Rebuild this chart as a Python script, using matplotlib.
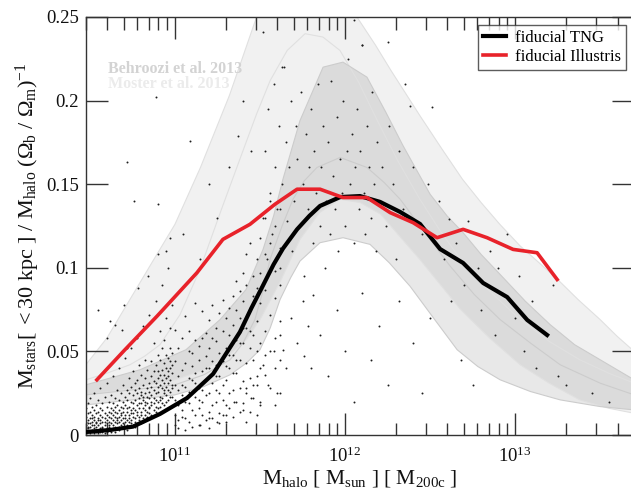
import numpy as np
import matplotlib
matplotlib.use("Agg")
import matplotlib.pyplot as plt

plt.rcParams['font.family'] = ['Liberation Serif', 'DejaVu Serif']
plt.rcParams['mathtext.fontset'] = 'custom'
plt.rcParams['mathtext.rm'] = 'Liberation Serif'
plt.rcParams['mathtext.it'] = 'Liberation Serif:italic'
plt.rcParams['mathtext.bf'] = 'Liberation Serif:bold'

# --- median relations (log10 M_halo, stellar fraction in units of Omega_b/Omega_m)
tng_logm = [10.476, 10.618, 10.753, 10.912, 11.071, 11.224, 11.382, 11.45, 11.518, 11.58,
            11.635, 11.718, 11.79, 11.853, 11.971, 12.088, 12.206, 12.324, 12.441, 12.559,
            12.694, 12.812, 12.953, 13.071, 13.188]
tng_frac = [0.0018, 0.0030, 0.0050, 0.0126, 0.0221, 0.0365, 0.0616, 0.0760, 0.0895, 0.1020,
            0.1115, 0.1230, 0.1310, 0.1370, 0.1423, 0.1429, 0.1394, 0.1334, 0.1262, 0.1112,
            0.1029, 0.0909, 0.0825, 0.0688, 0.0598]

ill_logm = [10.541, 10.706, 10.894, 11.129, 11.282, 11.441, 11.588, 11.718, 11.853, 11.988,
            12.129, 12.265, 12.400, 12.541, 12.694, 12.835, 12.988, 13.129, 13.247]
ill_frac = [0.033, 0.051, 0.071, 0.097, 0.117, 0.126, 0.138, 0.147, 0.147, 0.142,
            0.142, 0.133, 0.127, 0.118, 0.123, 0.118, 0.111, 0.109, 0.093]

# --- abundance matching bands: upper edge, lower edge and median
moster_up_logm = [10.476, 10.6, 10.735, 10.87, 11.0, 11.15, 11.32, 11.48, 11.62, 11.77,
                  11.91, 12.07, 12.18, 12.27, 12.44, 12.57, 12.69, 12.80, 12.91, 13.03,
                  13.13, 13.25, 13.37, 13.5, 13.6, 13.7]
moster_up = [0.042, 0.058, 0.081, 0.104, 0.126, 0.160, 0.203, 0.250, 0.272, 0.281,
             0.272, 0.250, 0.233, 0.218, 0.191, 0.171, 0.153, 0.139, 0.126, 0.113,
             0.104, 0.093, 0.081, 0.069, 0.059, 0.050]
moster_lo_logm = [10.476, 10.75, 11.0, 11.17, 11.32, 11.42, 11.5, 11.62, 11.735, 11.85,
                  11.97, 12.09, 12.21, 12.32, 12.44, 12.56, 12.68, 12.85, 13.03, 13.2,
                  13.38, 13.55, 13.7]
moster_lo = [0.024, 0.028, 0.033, 0.039, 0.048, 0.057, 0.069, 0.092, 0.117, 0.133,
             0.141, 0.139, 0.132, 0.119, 0.105, 0.090, 0.075, 0.058, 0.042, 0.031,
             0.021, 0.016, 0.013]
moster_mid_logm = [10.476, 10.6, 10.735, 10.82, 10.912, 11.03, 11.147, 11.27, 11.4, 11.48,
                   11.56, 11.66, 11.765, 11.87, 11.97, 12.08, 12.19, 12.31, 12.44, 12.56,
                   12.68, 12.85, 13.03, 13.2, 13.38, 13.55, 13.7]
moster_mid = [0.033, 0.037, 0.042, 0.047, 0.054, 0.072, 0.099, 0.134, 0.170, 0.192,
              0.212, 0.230, 0.240, 0.238, 0.230, 0.211, 0.188, 0.164, 0.141, 0.122,
              0.105, 0.086, 0.069, 0.056, 0.045, 0.037, 0.031]

behroozi_up_logm = [10.476, 10.794, 11.065, 11.265, 11.418, 11.518, 11.58, 11.635, 11.735, 11.871,
                    11.988, 12.129, 12.24, 12.341, 12.5, 12.6, 12.694, 12.8, 12.912, 13.06,
                    13.206, 13.35, 13.5, 13.7]
behroozi_up = [0.030, 0.039, 0.051, 0.069, 0.087, 0.111, 0.131, 0.153, 0.188, 0.220,
               0.223, 0.214, 0.193, 0.173, 0.144, 0.131, 0.121, 0.108, 0.096, 0.080,
               0.066, 0.054, 0.045, 0.033]
behroozi_lo_logm = [10.476, 10.75, 11.0, 11.17, 11.324, 11.42, 11.5, 11.56, 11.618, 11.68,
                    11.735, 11.853, 11.988, 12.147, 12.26, 12.382, 12.52, 12.659, 12.78, 12.912,
                    13.09, 13.265, 13.5, 13.7]
behroozi_lo = [0.018, 0.021, 0.024, 0.029, 0.036, 0.043, 0.051, 0.064, 0.081, 0.094,
               0.104, 0.115, 0.118, 0.114, 0.103, 0.089, 0.070, 0.051, 0.041, 0.033,
               0.026, 0.021, 0.017, 0.015]
behroozi_mid_logm = [10.476, 10.75, 11.0, 11.17, 11.324, 11.40, 11.47, 11.52, 11.559, 11.63,
                     11.694, 11.76, 11.835, 11.971, 12.129, 12.23, 12.324, 12.47, 12.618, 12.76,
                     12.912, 13.09, 13.265, 13.5, 13.7]
behroozi_mid = [0.024, 0.027, 0.030, 0.036, 0.045, 0.055, 0.069, 0.087, 0.105, 0.125,
                0.141, 0.152, 0.160, 0.166, 0.160, 0.151, 0.141, 0.121, 0.101, 0.084,
                0.069, 0.055, 0.042, 0.031, 0.024]

# --- individual TNG haloes, crowded low-mass end listed per mass column
cloud = [
    (10.478, [.001, .006, .003, .011, .008, .016, .004]),
    (10.490, [.004, .002, .009, .013, .005, .019, .007]),
    (10.502, [.002, .007, .005, .010, .001, .014, .022]),
    (10.514, [.006, .003, .012, .008, .017, .002, .010]),
    (10.526, [.001, .009, .004, .015, .006, .011, .025]),
    (10.538, [.005, .002, .008, .013, .018, .003, .007]),
    (10.550, [.003, .010, .006, .001, .014, .021, .009]),
    (10.562, [.007, .004, .012, .002, .009, .016, .028]),
    (10.574, [.002, .008, .005, .015, .011, .004, .019]),
    (10.586, [.006, .003, .010, .013, .001, .023, .008]),
    (10.598, [.004, .009, .002, .017, .007, .012, .031]),
    (10.610, [.008, .005, .014, .003, .011, .020, .006]),
    (10.622, [.003, .010, .007, .016, .002, .013, .024]),
    (10.634, [.006, .012, .004, .009, .019, .015, .035]),
    (10.646, [.002, .008, .014, .005, .011, .022, .017]),
    (10.658, [.007, .004, .010, .018, .013, .027, .009]),
    (10.670, [.005, .011, .003, .015, .021, .008, .040]),
    (10.682, [.009, .006, .013, .017, .004, .025, .012]),
    (10.694, [.004, .010, .016, .007, .020, .014, .030]),
    (10.706, [.008, .012, .005, .018, .023, .010, .046]),
    (10.718, [.006, .014, .009, .021, .003, .016, .027]),
    (10.730, [.010, .005, .017, .012, .025, .008, .034]),
    (10.742, [.007, .013, .020, .009, .015, .029, .052]),
    (10.754, [.011, .006, .016, .024, .013, .019, .038]),
    (10.766, [.008, .015, .010, .021, .027, .005, .031]),
    (10.778, [.012, .018, .007, .025, .014, .033, .058]),
    (10.790, [.009, .016, .022, .011, .028, .019, .042]),
    (10.802, [.014, .007, .019, .026, .012, .036, .024]),
    (10.814, [.010, .021, .016, .030, .008, .023, .065]),
    (10.826, [.015, .012, .025, .018, .034, .020, .045]),
    (10.838, [.011, .019, .028, .014, .023, .039, .010]),
    (10.850, [.017, .013, .022, .031, .026, .016, .072]),
    (10.862, [.012, .024, .018, .035, .029, .044, .020]),
    (10.874, [.019, .015, .027, .022, .038, .032, .055]),
    (10.886, [.014, .021, .031, .025, .017, .042, .080]),
    (10.898, [.020, .026, .016, .034, .029, .048, .038]),
    (10.910, [.017, .023, .036, .030, .045, .021, .062]),
    (10.922, [.022, .028, .019, .039, .033, .052, .090]),
    (10.934, [.018, .031, .025, .043, .036, .027, .057]),
    (10.946, [.024, .020, .034, .029, .048, .040, .070]),
    (10.958, [.021, .035, .027, .046, .038, .031, .100]),
    (10.970, [.026, .023, .040, .033, .052, .044, .064]),
    (10.982, [.023, .037, .030, .049, .042, .028, .078]),
    (11.00, [.012, .021, .030, .044, .006, .063]),
    (11.02, [.018, .027, .035, .009, .052, .004]),
    (11.04, [.015, .024, .039, .058, .011, .030]),
    (11.06, [.029, .010, .043, .020, .071, .003]),
    (11.08, [.019, .034, .050, .008, .026, .062]),
    (11.10, [.015, .026, .041, .005, .049, .033]),
    (11.12, [.023, .031, .012, .057, .037, .079]),
    (11.14, [.028, .045, .021, .006, .053, .016]),
    (11.16, [.038, .027, .012, .058, .020, .074]),
    (11.18, [.033, .047, .009, .024, .061, .040]),
    (11.20, [.025, .040, .052, .014, .069, .004]),
    (11.22, [.031, .018, .058, .044, .010, .078]),
    (11.24, [.042, .027, .056, .020, .064, .035]),
    (11.26, [.035, .049, .013, .073, .025, .007]),
    (11.28, [.044, .021, .062, .030, .081, .012]),
    (11.30, [.052, .033, .070, .018, .041, .008]),
    (11.32, [.060, .040, .025, .076, .016, .048]),
    (11.34, [.048, .066, .027, .083, .011, .037]),
    (11.36, [.057, .037, .075, .020, .092, .045]),
    (11.38, [.070, .045, .086, .028, .014, .055]),
    (11.40, [.055, .080, .032, .097, .019, .064]),
    (11.42, [.064, .090, .043, .025, .108, .008]),
    (11.44, [.076, .052, .034, .115, .014, .062]),
    (11.46, [.095, .060, .045, .083, .022, .030]),
    (11.48, [.068, .105, .030, .088, .050, .012]),
    (11.50, [.079, .055, .097, .040, .118, .020]),
    (11.53, [.087, .062, .108, .036, .130, .048]),
    (11.56, [.072, .115, .050, .098, .028, .140]),
    (11.59, [.098, .125, .058, .082, .040, .018]),
    (11.62, [.090, .112, .068, .135, .045, .025]),
]

# --- individual TNG haloes, sparser parts of the plane
gal_logm = [
    10.55, 10.60, 10.65, 10.70, 10.72, 10.78, 10.84, 10.90, 10.97, 10.62, 10.69,
    11.30, 11.35, 11.40, 11.42, 11.45, 11.48, 11.50, 11.52, 11.55, 11.58, 11.60, 11.62, 11.65, 11.68,
    11.72, 11.75, 11.78, 11.25, 11.20, 11.15, 11.635, 11.81, 11.76,
    11.52, 11.53, 11.54, 11.55, 11.56, 11.57, 11.58, 11.59, 11.60, 11.61, 11.62, 11.63, 11.64, 11.65,
    11.66, 11.67, 11.68, 11.69, 11.70, 11.71, 11.72, 11.73, 11.74, 11.75, 11.76, 11.77, 11.78, 11.79,
    11.80, 11.81, 11.82, 11.83, 11.84, 11.85, 11.86, 11.87, 11.88, 11.89, 11.90, 11.91, 11.92, 11.93,
    11.94, 11.95, 11.96, 11.97, 11.98, 11.99, 12.00, 12.01, 12.02, 12.03, 12.04, 12.05, 12.06, 12.07,
    12.08, 12.09, 12.10, 12.11, 12.12, 12.13, 12.14, 12.15, 12.16, 12.17, 12.18, 12.19, 12.20, 12.22,
    12.24, 12.26, 12.28, 12.30, 12.32, 12.34,
    11.85, 11.90, 11.95, 12.00, 12.05, 12.10, 12.15, 12.20, 12.25, 12.32, 11.80, 12.40, 12.45, 12.50,
    12.38, 12.51, 12.49, 12.61, 12.40, 12.45, 12.55, 12.58, 12.65, 12.70, 12.72, 12.78, 12.80, 12.85,
    12.88, 12.92, 12.95, 13.00, 13.02, 13.05, 13.10, 13.12, 13.18, 13.22, 13.25, 13.30, 13.45, 13.55,
    12.62, 12.68, 12.75, 12.90, 13.15, 12.35, 12.25, 12.05, 12.10,
    10.89, 10.72, 10.76, 10.90, 11.09, 11.37, 11.52, 11.63, 11.05, 11.20, 11.25, 11.32, 11.15, 10.95,
    11.40, 11.45,
]
gal_frac = [
    0.075, 0.058, 0.066, 0.078, 0.052, 0.088, 0.095, 0.108, 0.118, 0.068, 0.063,
    0.012, 0.020, 0.015, 0.028, 0.022, 0.035, 0.018, 0.042, 0.030, 0.050, 0.025, 0.060, 0.040, 0.070,
    0.055, 0.080, 0.065, 0.008, 0.010, 0.006, 0.051, 0.084, 0.047,
    0.130, 0.170, 0.105, 0.195, 0.145, 0.120, 0.210, 0.160, 0.135, 0.185, 0.100, 0.150, 0.220, 0.175,
    0.128, 0.160, 0.200, 0.110, 0.140, 0.185, 0.165, 0.125, 0.205, 0.150, 0.095, 0.180, 0.135, 0.160,
    0.195, 0.115, 0.170, 0.145, 0.210, 0.125, 0.160, 0.185, 0.100, 0.140, 0.175, 0.120, 0.212, 0.155,
    0.135, 0.190, 0.110, 0.165, 0.145, 0.200, 0.125, 0.170, 0.225, 0.150, 0.180, 0.115, 0.160, 0.195,
    0.135, 0.170, 0.233, 0.145, 0.120, 0.185, 0.160, 0.130, 0.205, 0.150, 0.110, 0.175, 0.140, 0.160,
    0.125, 0.185, 0.150, 0.105, 0.170, 0.135,
    0.060, 0.035, 0.075, 0.050, 0.020, 0.085, 0.045, 0.065, 0.030, 0.080, 0.040, 0.055, 0.025, 0.070,
    0.197, 0.196, 0.150, 0.129, 0.160, 0.120, 0.140, 0.105, 0.115, 0.090, 0.128, 0.100, 0.075, 0.110,
    0.060, 0.085, 0.120, 0.070, 0.095, 0.050, 0.080, 0.040, 0.060, 0.090, 0.035, 0.030, 0.025, 0.020,
    0.080, 0.045, 0.030, 0.100, 0.105, 0.210, 0.235, 0.248, 0.233,
    0.202, 0.163, 0.140, 0.138, 0.176, 0.179, 0.241, 0.220, 0.120, 0.150, 0.130, 0.160, 0.105, 0.110,
    0.200, 0.170,
]

for m, fr in cloud:
    gal_logm += [m] * len(fr)
    gal_frac += fr

fig = plt.figure(figsize=(6.31, 4.98), dpi=100)
ax = fig.add_axes([0.1363, 0.1265, 0.8685, 0.8394])


def band(lo_x, lo_y, up_x, up_y, mid_x, mid_y, alpha, edge):
    xs = np.concatenate([10**np.array(up_x), 10**np.array(lo_x)[::-1]])
    ys = np.concatenate([up_y, lo_y[::-1]])
    ax.fill(xs, ys, color='k', alpha=alpha, lw=0, zorder=1)
    for px, py in [(up_x, up_y), (lo_x, lo_y), (mid_x, mid_y)]:
        ax.plot(10**np.array(px), py, color=edge, lw=0.8, zorder=1.5)


band(moster_lo_logm, moster_lo, moster_up_logm, moster_up, moster_mid_logm, moster_mid, 0.055, '#e0e0e0')
band(behroozi_lo_logm, behroozi_lo, behroozi_up_logm, behroozi_up, behroozi_mid_logm, behroozi_mid, 0.09, '#cccccc')

ax.scatter(10**np.array(gal_logm), gal_frac, s=2.0, c='#1e1e1e', lw=0, zorder=2)

ax.plot(10**np.array(tng_logm), tng_frac, color='black', lw=3, zorder=4, label='fiducial TNG')
ax.plot(10**np.array(ill_logm), ill_frac, color='#e8222a', lw=2.6, zorder=4, label='fiducial Illustris')

ax.text(0.04, 0.866, 'Behroozi et al. 2013', transform=ax.transAxes, color='#d3d3d3',
        fontsize=11.5, fontweight='bold')
ax.text(0.04, 0.830, 'Moster et al. 2013', transform=ax.transAxes, color='#ebebeb',
        fontsize=11.5, fontweight='bold')

ax.set_xscale('log')
ax.set_xlim(3e10, 5e13)
ax.set_ylim(0, 0.25)
ax.set_yticks([0, 0.05, 0.1, 0.15, 0.2, 0.25])
ax.set_yticklabels(['0', '0.05', '0.1', '0.15', '0.2', '0.25'])
ax.tick_params(which='both', direction='in', top=True, right=True, color='#333333',
               labelcolor='#111111', labelsize=13.5)
ax.tick_params(which='major', length=16, width=1)
ax.tick_params(which='minor', length=9, width=1)
ax.tick_params(axis='x', pad=8)
ax.tick_params(axis='y', pad=5)
ax.minorticks_on()
ax.yaxis.set_minor_locator(matplotlib.ticker.NullLocator())
for s in ax.spines.values():
    s.set_color('#333333')
    s.set_linewidth(1.0)

ax.set_xlabel(r'$\mathrm{M_{halo}\ [\ M_{sun}\ ]\ [\ M_{200c}\ ]}$', fontsize=15.5, color='#111111', labelpad=2)
ax.set_ylabel(r'$\mathrm{M_{stars}[\ <30\ kpc\ ]\ /\ M_{halo}\ (\Omega_b\ /\ \Omega_m)^{-1}}$',
              fontsize=16, color='#111111', labelpad=3)

leg = ax.legend(loc='upper right', bbox_to_anchor=(0.985, 0.982), borderaxespad=0, fontsize=12,
                fancybox=False, frameon=True, handlelength=1.4, handletextpad=0.5,
                borderpad=0.3, labelspacing=0.2)
leg.get_frame().set_edgecolor('#333333')
leg.get_frame().set_linewidth(1.0)

fig.savefig('out.png', dpi=100)
